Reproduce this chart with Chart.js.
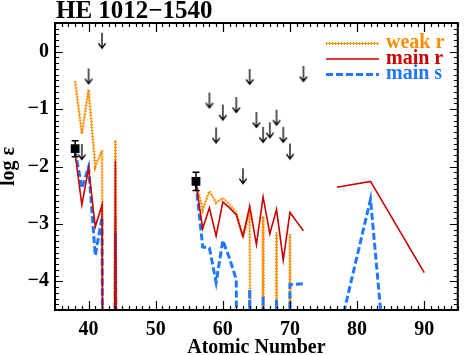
<!DOCTYPE html>
<html>
<head>
<meta charset="utf-8">
<script src="https://cdn.jsdelivr.net/npm/chart.js@4.4.1/dist/chart.umd.min.js"></script>
<style>
  html, body { margin: 0; padding: 0; background: #fff; }
  #wrap { width: 464px; height: 355px; }
</style>
</head>
<body>
<div id="wrap"><canvas id="chart" width="464" height="355"></canvas></div>
<script>
/* ---- values ---- */
// atomic numbers of the three model segments
const zLow   = [38, 39, 40, 41, 42, 43, 44, 45];
const zMid   = [56, 57, 58, 59, 60, 61, 62, 63, 64, 65, 66, 67, 68, 69, 70, 71, 72];
const zHighR = [77, 82, 90];
const zHighS = [77, 82, 84];

const OFF = -30;   // far below the frame (drawn as the vertical spikes)

const weakRLow  = [-0.52, -1.43, -0.66, -2.00, -1.72, OFF, -1.54, OFF];
const weakRMid  = [-2.28, -2.75, -2.43, -2.63, -2.55, -2.66, -2.80, -3.22, -2.78, OFF, -2.87, OFF, -3.15, OFF, -3.18, OFF, OFF];

const mainRLow  = [-1.78, -2.67, -2.03, -3.05, -2.67, OFF, -1.90, OFF];
const mainRMid  = [-2.30, -3.08, -2.72, -3.21, -2.62, -2.72, -2.84, -3.22, -2.69, -3.36, -2.53, -3.17, -2.75, -3.63, -2.80, -2.96, -3.12];
const mainRHigh = [-2.36, -2.26, -3.85];

const mainSLow  = [-1.72, -2.38, -2.01, -3.55, -2.88, OFF, -3.16, OFF];
const mainSMid  = [-2.30, -3.40, -3.42, -4.02, -3.29, -3.60, -3.97, OFF, -4.14, OFF, -4.26, OFF, -4.32, OFF, -4.06, -4.05, -4.04];
const mainSHigh = [-5.05, -2.57, -5.15];

// measured abundances (Sr, Ba) with error bars
const detZ   = [38, 56];
const detVal = [-1.69, -2.26];
const detErr = [0.14, 0.16];

// upper limits (value = top of the arrow)
const limZ   = [39, 40, 42, 58, 59, 60, 62, 63, 64, 65, 66, 67, 68, 69, 70, 72];
const limVal = [-1.61, -0.29, 0.33, -0.71, -1.32, -0.92, -0.79, -2.03, -0.30, -1.05, -1.31, -1.23, -1.01, -1.31, -1.60, -0.25];

const xTicks = [40, 50, 60, 70, 80, 90];
const yTicks = [-4, -3, -2, -1, 0];

const ORANGE = '#ff8c00', RED = '#cc0000', BLUE = '#1f78ff';
const SERIF = '"Liberation Serif", "Times New Roman", serif';

/* ---- helpers ---- */
const pts = (z, v) => z.map((x, i) => ({x, y: v[i]}));
// join segments, a null point between them breaks the line
function segs(...parts) {
  const out = [];
  parts.forEach((p, i) => {
    if (i) out.push({x: p[0].x - 0.5, y: null});
    out.push(...p);
  });
  return out;
}

function arrowGlyph() {
  const c = document.createElement('canvas');
  c.width = 10; c.height = 34;
  const g = c.getContext('2d');
  g.strokeStyle = '#000'; g.lineWidth = 1.3;
  g.beginPath();
  g.moveTo(5, 17); g.lineTo(5, 32);
  g.moveTo(1.4, 27.5); g.lineTo(5, 32.5); g.lineTo(8.6, 27.5);
  g.stroke();
  return c;
}

const line = (data, color, width, dash, order) => ({
  type: 'line', data, borderColor: color, borderWidth: width, borderDash: dash,
  pointRadius: 0, tension: 0, fill: false, order
});

const weakData  = segs(pts(zLow, weakRLow), pts(zMid, weakRMid));
const mainRData = segs(pts(zLow, mainRLow), pts(zMid, mainRMid), pts(zHighR, mainRHigh));
const mainSData = segs(pts(zLow, mainSLow), pts(zMid, mainSMid), pts(zHighS, mainSHigh));

/* ---- plugins: frame with inward ticks, error bars, legend, titles ---- */
const frame = {
  id: 'frame',
  afterDatasetsDraw(chart) {
    const {ctx, chartArea: a, scales: {x, y}} = chart;
    ctx.save();
    // error bars on the measured points
    ctx.strokeStyle = '#000'; ctx.lineWidth = 1.5;
    ctx.beginPath();
    detZ.forEach((z, i) => {
      const px = x.getPixelForValue(z);
      const t = y.getPixelForValue(detVal[i] + detErr[i]);
      const b = y.getPixelForValue(detVal[i] - detErr[i]);
      ctx.moveTo(px, t); ctx.lineTo(px, b);
      ctx.moveTo(px - 3.5, t); ctx.lineTo(px + 3.5, t);
      ctx.moveTo(px - 3.5, b); ctx.lineTo(px + 3.5, b);
    });
    ctx.stroke();

    ctx.lineWidth = 1.2;
    ctx.beginPath();
    for (let v = 35; v <= 95; v++) {
      const px = Math.round(x.getPixelForValue(v)) + 0.5;
      const len = v % 10 === 0 ? 9 : 4;
      ctx.moveTo(px, a.bottom); ctx.lineTo(px, a.bottom - len);
      ctx.moveTo(px, a.top); ctx.lineTo(px, a.top + len);
    }
    for (let k = -45; k <= 5; k++) {
      const py = Math.round(y.getPixelForValue(k / 10)) + 0.5;
      const len = k % 10 === 0 ? 8 : 4;
      ctx.moveTo(a.left, py); ctx.lineTo(a.left + len, py);
      ctx.moveTo(a.right, py); ctx.lineTo(a.right - len, py);
    }
    ctx.stroke();
    ctx.lineWidth = 2;
    ctx.strokeRect(a.left, a.top, a.right - a.left, a.bottom - a.top);
    ctx.restore();
  },
  afterDraw(chart) {
    const {ctx, chartArea: a} = chart;
    ctx.save();
    ctx.fillStyle = '#000';
    // title
    ctx.font = `bold 25px ${SERIF}`;
    ctx.textAlign = 'left'; ctx.textBaseline = 'alphabetic';
    ctx.fillText('HE 1012\u22121540', 56, 17.5);
    // axis titles
    ctx.font = `bold 20px ${SERIF}`;
    ctx.textAlign = 'center';
    ctx.fillText('Atomic Number', (a.left + a.right) / 2, 353);
    ctx.translate(14, (a.top + a.bottom) / 2);
    ctx.rotate(-Math.PI / 2);
    ctx.fillText('log \u03b5', 0, 0);
    ctx.restore();

    // legend, top right inside the frame
    const rows = [
      {label: 'weak r', color: ORANGE, y: 43.5},
      {label: 'main r', color: RED,    y: 59},
      {label: 'main s', color: BLUE,   y: 74.5},
    ];
    ctx.save();
    rows.forEach((r, i) => {
      ctx.strokeStyle = r.color;
      ctx.beginPath(); ctx.moveTo(326, r.y); ctx.lineTo(379, r.y);
      if (i === 0) {
        ctx.lineWidth = 1; ctx.setLineDash([]); ctx.stroke();
        ctx.lineWidth = 3; ctx.setLineDash([1, 2]); ctx.stroke();
      } else if (i === 1) {
        ctx.lineWidth = 1.6; ctx.setLineDash([]); ctx.stroke();
      } else {
        ctx.lineWidth = 3; ctx.setLineDash([7, 3]); ctx.stroke();
      }
      ctx.setLineDash([]);
      ctx.fillStyle = r.color;
      ctx.font = `bold 20px ${SERIF}`;
      ctx.textAlign = 'left'; ctx.textBaseline = 'alphabetic';
      ctx.fillText(r.label, 386, r.y + 4.5);
    });
    ctx.restore();
  }
};

const tickFont = {family: SERIF, size: 20, weight: 'bold'};

new Chart(document.getElementById('chart'), {
  data: {
    datasets: [
      {type: 'line', data: pts(limZ, limVal), showLine: false, pointStyle: arrowGlyph(), pointRadius: 5, order: 0},
      {type: 'line', data: pts(detZ, detVal), showLine: false, pointStyle: 'rect', pointRadius: 6.2,
        pointBackgroundColor: '#000', pointBorderColor: '#000', pointBorderWidth: 0, order: 1},
      line(mainRData, RED, 1.6, [], 2),
      line(mainSData, BLUE, 3, [7, 3], 3),
      line(weakData, ORANGE, 3, [1, 2], 4),
      line(weakData, ORANGE, 1, [], 5),
    ]
  },
  options: {
    responsive: false,
    animation: false,
    devicePixelRatio: 1,
    layout: {padding: {top: 23, right: 1, left: 0, bottom: 0}},
    plugins: {legend: {display: false}, tooltip: {enabled: false}},
    scales: {
      x: {
        type: 'linear', min: 35, max: 95,
        afterBuildTicks: s => { s.ticks = xTicks.map(value => ({value})); },
        afterFit: s => { s.height = 45; },
        grid: {display: false, drawTicks: false}, border: {display: false},
        ticks: {font: tickFont, color: '#000', padding: 8, maxRotation: 0}
      },
      y: {
        type: 'linear', min: -4.5, max: 0.5,
        afterBuildTicks: s => { s.ticks = yTicks.map(value => ({value})); },
        afterFit: s => { s.width = 55; },
        grid: {display: false, drawTicks: false}, border: {display: false},
        ticks: {font: tickFont, color: '#000', padding: 6,
          callback: v => v < 0 ? '\u2212' + Math.abs(v) : String(v)}
      }
    }
  },
  plugins: [frame]
});
</script>
</body>
</html>
